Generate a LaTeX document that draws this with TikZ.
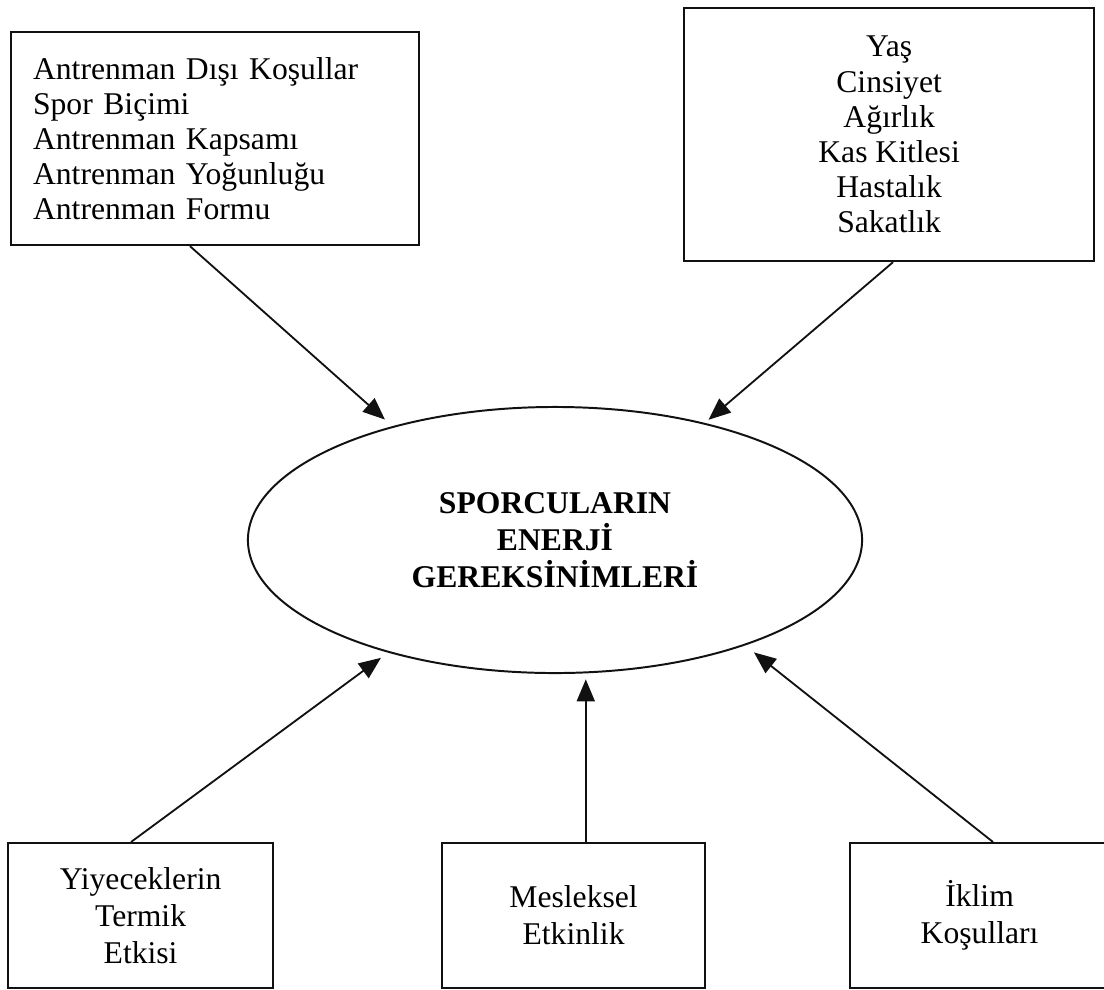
\documentclass[tikz,border=0pt]{standalone}
\usepackage{fontspec}
\setmainfont{Liberation Serif}
\usepackage{tikz}
\usetikzlibrary{shapes.geometric, arrows.meta, calc}
\definecolor{inkblack}{HTML}{111111}

\tikzset{
  factorbox/.style={draw=inkblack, line width=1.5pt, rectangle, inner sep=0pt, anchor=north west, align=center, font=\fontsize{22.5}{25}\selectfont},
  lowbox/.style={minimum height=3.625cm, font=\fontsize{22.5}{26.3}\selectfont},
  needellipse/.style={draw=inkblack, line width=1.4pt, ellipse, inner sep=0pt, minimum width=15.35cm, minimum height=6.65cm, align=center, font=\fontsize{22.5}{26.3}\selectfont\bfseries},
  effectarrow/.style={draw=inkblack, line width=1.3pt, -{Triangle[length=0.55cm, width=0.45cm]}}
}

\begin{document}
\begin{tikzpicture}[x=0.025cm, y=-0.025cm]
  % Page frame
  \fill[white] (0,0) rectangle (1104,989);
  \useasboundingbox (0,0) rectangle (1104,989);

  % Top factor boxes
  \node[factorbox, minimum width=10.2cm, minimum height=5.325cm, text width=9.1cm, align=left] (training) at (10,31) {Antrenman Dışı Koşullar\\Spor Biçimi\\Antrenman Kapsamı\\Antrenman Yoğunluğu\\Antrenman Formu};
  \node[factorbox, minimum width=10.25cm, minimum height=6.325cm] (personal) at (683,7) {Yaş\\Cinsiyet\\Ağırlık\\Kas Kitlesi\\Hastalık\\Sakatlık};

  % Central ellipse
  \node[needellipse] (energy) at (555,540) {SPORCULARIN\\ENERJİ\\GEREKSİNİMLERİ};

  % Bottom factor boxes
  \node[factorbox, lowbox, minimum width=6.625cm] (food) at (7,842) {Yiyeceklerin\\Termik\\Etkisi};
  \node[factorbox, lowbox, minimum width=6.575cm] (work) at (441,842) {Mesleksel\\Etkinlik};
  \node[factorbox, lowbox, minimum width=6.475cm] (climate) at (849,842) {İklim\\Koşulları};

  % Arrows into the ellipse
  \draw[effectarrow, shorten >=0.25cm] ($(training.south west)+(180,0)$) -- (energy.145);
  \draw[effectarrow, shorten >=0.12cm] ($(personal.south west)+(210,0)$) -- (energy.38);
  \draw[effectarrow, shorten >=0.22cm] ($(food.north west)+(124,0)$) -- (energy.214);
  \draw[effectarrow, shorten >=0.15cm] (energy.283 |- work.north) -- (energy.283);
  \draw[effectarrow, shorten >=0.28cm] ($(climate.north west)+(144,0)$) -- (energy.331);
\end{tikzpicture}
\end{document}
